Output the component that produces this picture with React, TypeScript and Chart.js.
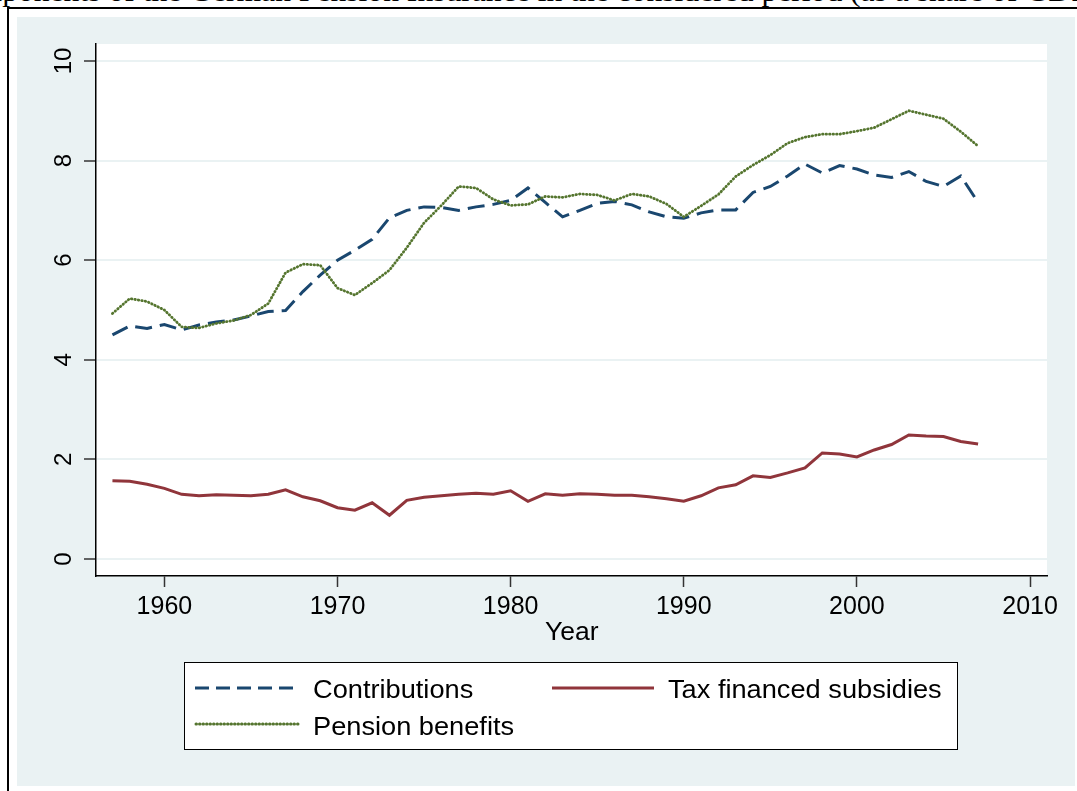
import React, { useEffect, useRef } from "react";
import { Chart, registerables } from "chart.js";

Chart.register(...registerables);

const years = [
  1957, 1958, 1959, 1960, 1961, 1962, 1963, 1964, 1965, 1966,
  1967, 1968, 1969, 1970, 1971, 1972, 1973, 1974, 1975, 1976,
  1977, 1978, 1979, 1980, 1981, 1982, 1983, 1984, 1985, 1986,
  1987, 1988, 1989, 1990, 1991, 1992, 1993, 1994, 1995, 1996,
  1997, 1998, 1999, 2000, 2001, 2002, 2003, 2004, 2005, 2006, 2007,
];

const contributions = [
  4.5, 4.68, 4.63, 4.71, 4.6, 4.7, 4.76, 4.8, 4.88, 4.97,
  4.99, 5.37, 5.7, 6.0, 6.2, 6.42, 6.85, 7.0, 7.07, 7.06,
  7.0, 7.07, 7.12, 7.2, 7.45, 7.16, 6.87, 7.0, 7.14, 7.18,
  7.11, 6.97, 6.87, 6.84, 6.95, 7.01, 7.01, 7.36, 7.48, 7.69,
  7.93, 7.75, 7.9, 7.83, 7.71, 7.66, 7.78, 7.58, 7.48, 7.69, 7.16,
];

const taxSubsidies = [
  1.57, 1.56, 1.5, 1.42, 1.3, 1.27, 1.29, 1.28, 1.27, 1.3,
  1.39, 1.25, 1.17, 1.03, 0.98, 1.13, 0.88, 1.18, 1.24, 1.27,
  1.3, 1.32, 1.3, 1.37, 1.16, 1.31, 1.28, 1.31, 1.3, 1.28,
  1.28, 1.25, 1.21, 1.16, 1.27, 1.43, 1.49, 1.67, 1.64, 1.73,
  1.83, 2.13, 2.11, 2.05, 2.19, 2.3, 2.49, 2.47, 2.46, 2.36, 2.31,
];

const pensionBenefits = [
  4.93, 5.23, 5.17, 5.0, 4.66, 4.64, 4.73, 4.79, 4.9, 5.13,
  5.75, 5.92, 5.9, 5.44, 5.3, 5.54, 5.8, 6.25, 6.75, 7.1,
  7.48, 7.45, 7.22, 7.1, 7.12, 7.28, 7.26, 7.33, 7.31, 7.2,
  7.33, 7.28, 7.13, 6.87, 7.09, 7.32, 7.68, 7.91, 8.11, 8.35,
  8.47, 8.53, 8.53, 8.59, 8.66, 8.83, 9.0, 8.92, 8.84, 8.58, 8.29,
];

const yTicks = [0, 2, 4, 6, 8, 10];
const xTicks = [1960, 1970, 1980, 1990, 2000, 2010];

const seriesNames = ["Contributions", "Tax financed subsidies", "Pension benefits"];
const xTitle = "Year";
const titleLeft = "Figure 2: Components of the German Pension Insurance in the considered period ";
const titleRight = "(as a share of GDP)";

const NAVY = "#1A476F";
const MAROON = "#90353B";
const GREEN = "#55752F";
const BG = "#EAF2F3";
const FONT = "'Liberation Sans', Arial, sans-serif";
const SERIF = "'Liberation Serif', 'Times New Roman', serif";

export default function App() {
  const ref = useRef<HTMLCanvasElement>(null);

  useEffect(() => {
    const canvas = ref.current;
    if (!canvas) return;

    const plotBg = {
      id: "plotBg",
      beforeDraw(chart: any) {
        const { ctx, chartArea: a } = chart;
        ctx.save();
        ctx.fillStyle = "#ffffff";
        ctx.fillRect(a.left, a.top, a.right - a.left, a.bottom - a.top);
        ctx.restore();
      },
    };

    const yLabels = {
      id: "yLabels",
      afterDraw(chart: any) {
        const { ctx } = chart;
        const s = chart.scales.y;
        ctx.save();
        ctx.fillStyle = "#000";
        ctx.font = `24px ${FONT}`;
        ctx.textAlign = "center";
        ctx.textBaseline = "middle";
        for (const v of yTicks) {
          const py = s.getPixelForValue(v);
          ctx.save();
          ctx.translate(47, py);
          ctx.rotate(-Math.PI / 2);
          ctx.fillText(String(v), 0, 0);
          ctx.restore();
        }
        ctx.restore();
      },
    };

    const toXY = (arr: number[]) => years.map((yr, i) => ({ x: yr, y: arr[i] }));

    const chart = new Chart(canvas, {
      type: "line",
      data: {
        datasets: [
          {
            label: seriesNames[0],
            data: toXY(contributions),
            borderColor: NAVY,
            borderWidth: 3,
            borderDash: [17, 8],
            pointRadius: 0,
            tension: 0,
            order: 2,
          },
          {
            label: seriesNames[1],
            data: toXY(taxSubsidies),
            borderColor: MAROON,
            borderWidth: 3,
            pointRadius: 0,
            tension: 0,
            order: 3,
          },
          {
            label: seriesNames[2],
            data: toXY(pensionBenefits),
            borderColor: GREEN,
            borderWidth: 2.8,
            borderDash: [0.5, 3],
            borderCapStyle: "round",
            pointRadius: 0,
            tension: 0,
            order: 1,
          },
        ],
      },
      options: {
        animation: false,
        responsive: false,
        devicePixelRatio: 1,
        layout: { padding: { top: 27, right: 30, left: 0, bottom: 0 } },
        plugins: {
          legend: { display: false },
          tooltip: { enabled: false },
          title: { display: false },
        },
        scales: {
          x: {
            type: "linear",
            min: 1956.05,
            max: 2010.98,
            afterBuildTicks: (scale: any) => {
              scale.ticks = xTicks.map((v) => ({ value: v }));
            },
            afterFit: (scale: any) => {
              scale.height = 81;
            },
            grid: {
              drawOnChartArea: false,
              drawTicks: true,
              tickLength: 11,
              tickColor: "#333",
              tickWidth: 1.5,
            },
            border: { display: true, color: "#000", width: 1.5 },
            ticks: {
              color: "#000",
              font: { family: FONT, size: 25 },
              padding: 5,
              maxRotation: 0,
              minRotation: 0,
              callback: (v: any) => String(v),
            },
          },
          y: {
            type: "linear",
            min: -0.34,
            max: 10.34,
            afterBuildTicks: (scale: any) => {
              scale.ticks = yTicks.map((v) => ({ value: v }));
            },
            afterFit: (scale: any) => {
              scale.width = 79;
            },
            grid: {
              color: BG,
              lineWidth: 2,
              drawTicks: true,
              tickLength: 12,
              tickColor: "#333",
              tickWidth: 1.5,
            },
            border: { display: true, color: "#000", width: 1.5 },
            ticks: { display: false },
          },
        },
      },
      plugins: [plotBg, yLabels],
    } as any);

    return () => chart.destroy();
  }, []);

  const legendText: React.CSSProperties = {
    position: "absolute",
    fontFamily: FONT,
    fontSize: 25,
    lineHeight: "30px",
    color: "#000",
    whiteSpace: "nowrap",
    transform: "scaleX(1.088)",
    transformOrigin: "left center",
  };

  const titleStyle: React.CSSProperties = {
    position: "absolute",
    top: -23,
    fontFamily: SERIF,
    fontSize: 29,
    lineHeight: "29px",
    whiteSpace: "pre",
    color: "#000",
  };

  return (
    <div
      style={{
        position: "absolute",
        left: 0,
        top: 0,
        width: 1077,
        height: 791,
        overflow: "hidden",
        background: "#fff",
      }}
    >
      <div
        style={{
          ...titleStyle,
          right: 227,
          transform: "scaleX(1.09)",
          transformOrigin: "right center",
        }}
      >
        {titleLeft}
      </div>
      <div
        style={{
          ...titleStyle,
          left: 850,
          transform: "scaleX(1.09)",
          transformOrigin: "left center",
        }}
      >
        {titleRight}
      </div>
      <div
        style={{
          position: "absolute",
          left: 7,
          top: 7,
          width: 1200,
          height: 900,
          borderLeft: "2.5px solid #000",
          borderTop: "2.5px solid #000",
          boxSizing: "border-box",
        }}
      />
      <div
        style={{
          position: "absolute",
          left: 17,
          top: 17,
          width: 1058,
          height: 769,
          background: BG,
        }}
      />
      <canvas
        ref={ref}
        width={1060}
        height={640}
        style={{ position: "absolute", left: 17, top: 17, width: 1060, height: 640 }}
      />
      <div
        style={{
          ...legendText,
          left: 545,
          top: 616,
          transform: "scaleX(1.06)",
        }}
      >
        {xTitle}
      </div>
      <div
        style={{
          position: "absolute",
          left: 184,
          top: 662,
          width: 774,
          height: 88,
          background: "#fff",
          border: "1.5px solid #000",
          boxSizing: "border-box",
        }}
      />
      <svg
        width={1077}
        height={791}
        style={{ position: "absolute", left: 0, top: 0 }}
      >
        <line x1={195} y1={688} x2={298} y2={688} stroke={NAVY} strokeWidth={3} strokeDasharray="14 7" />
        <line x1={552} y1={688} x2={654} y2={688} stroke={MAROON} strokeWidth={3} />
        <line
          x1={196}
          y1={724}
          x2={298}
          y2={724}
          stroke={GREEN}
          strokeWidth={3}
          strokeDasharray="0.5 3"
          strokeLinecap="round"
        />
      </svg>
      <div style={{ ...legendText, left: 313, top: 674 }}>{seriesNames[0]}</div>
      <div style={{ ...legendText, left: 668, top: 674 }}>{seriesNames[1]}</div>
      <div style={{ ...legendText, left: 313, top: 711 }}>{seriesNames[2]}</div>
    </div>
  );
}
